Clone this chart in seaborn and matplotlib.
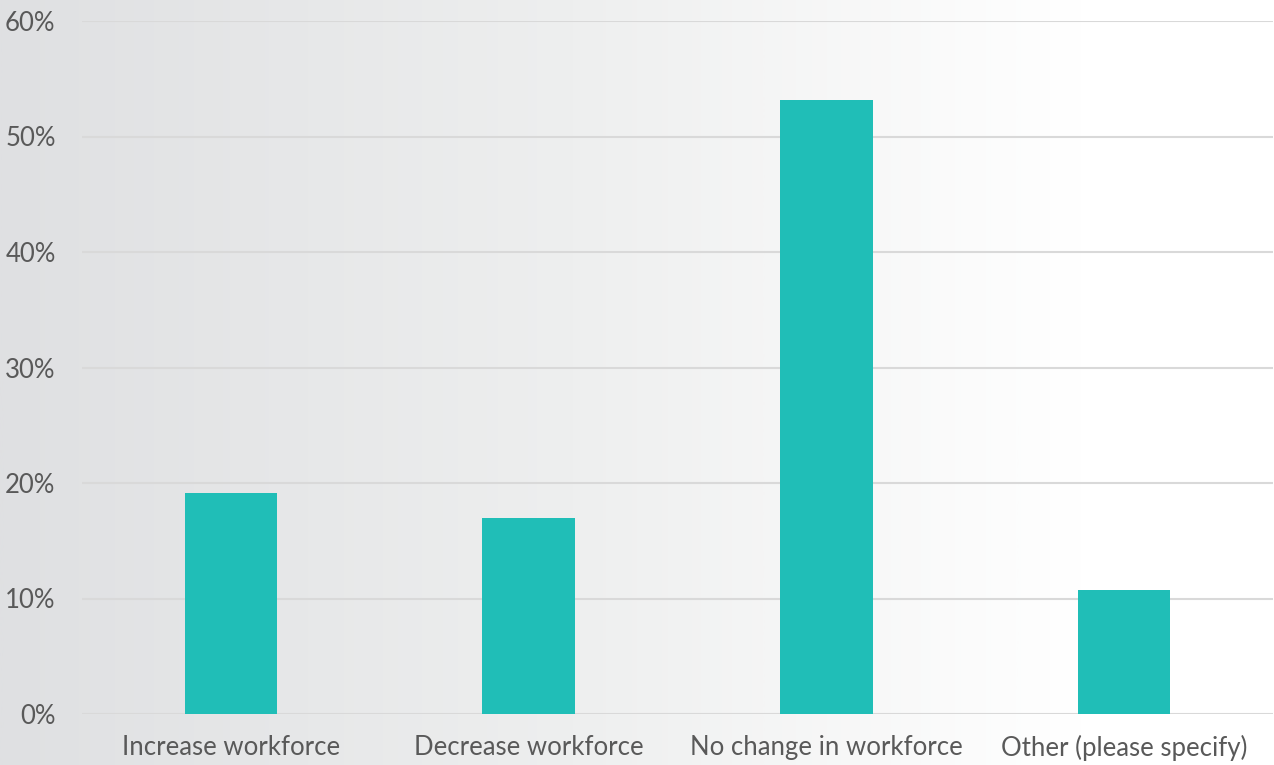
import numpy as np
import pandas as pd
import matplotlib
matplotlib.use("Agg")
import matplotlib.pyplot as plt
import seaborn as sns
from matplotlib.colors import LinearSegmentedColormap

categories = ["Increase workforce", "Decrease workforce", "No change in workforce", "Other (please specify)"]
values = [19.1, 17.0, 53.2, 10.7]
yticks = [0, 10, 20, 30, 40, 50, 60]
ytick_labels = ["0%", "10%", "20%", "30%", "40%", "50%", "60%"]

sns.set_theme(style="white")
plt.rcParams['font.family'] = ['Lato', 'DejaVu Sans']

fig = plt.figure(figsize=(12.74, 7.65), dpi=100)

# background gradient
bg = fig.add_axes([0, 0, 1, 1], zorder=0)
grad = np.linspace(0, 1, 512).reshape(1, -1)
cmap = LinearSegmentedColormap.from_list("bg", [(0.0, "#dfe0e2"), (0.45, "#eeefef"), (0.85, "#ffffff"), (1.0, "#ffffff")])
bg.imshow(grad, aspect="auto", cmap=cmap, extent=[0, 1, 0, 1])
bg.axis("off")

ax = fig.add_axes([82/1274, 1-714/765, (1273-82)/1274, (714-21)/765], zorder=1)
ax.patch.set_alpha(0)

df = pd.DataFrame({"category": categories, "value": values})
sns.barplot(data=df, x="category", y="value", color="#20beb7", width=0.31,
            saturation=1, linewidth=0, edgecolor="none", ax=ax, zorder=3)

ax.set_ylim(0, 60)
ax.set_yticks(yticks)
ax.set_yticklabels(ytick_labels)
ax.yaxis.grid(True, color="#d9d9d9", linewidth=1.5, zorder=0)
ax.set_axisbelow(True)
for s in ax.spines.values():
    s.set_visible(False)
ax.set_xlabel("")
ax.set_ylabel("")
ax.tick_params(axis="both", length=0, labelsize=18.5, labelcolor="#595959")
ax.tick_params(axis="y", pad=19)
ax.tick_params(axis="x", pad=15)

fig.savefig("out.png", dpi=100)
